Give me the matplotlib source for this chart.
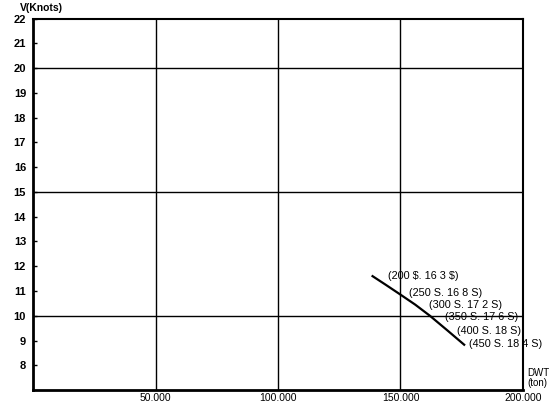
import matplotlib.pyplot as plt

# speed vs deadweight curve
dwt = [138600, 144000, 150200, 156000, 162000, 169000, 176000]
speed = [11.6, 11.25, 10.84, 10.45, 10.0, 9.42, 8.83]

# labels along the curve: (fuel price, freight)
curve_labels = [r"(200 \$. 16 3 \$)", "(250 S. 16 8 S)", "(300 S. 17 2 S)",
                "(350 S. 17 6 S)", "(400 S. 18 S)", "(450 S. 18 4 S)"]
label_x = [144900, 153500, 161600, 168200, 173100, 178000]
label_y = [11.59, 10.93, 10.45, 9.96, 9.39, 8.86]

x_ticks = [50000, 100000, 150000, 200000]
x_ticklabels = ["50.000", "100.000", "150.000", "200.000"]
y_ticks = list(range(8, 23))

plt.rcParams['font.family'] = ['Liberation Sans', 'DejaVu Sans']

fig = plt.figure(figsize=(5.53, 4.08), dpi=100)
ax = fig.add_axes([0.0597, 0.0441, 0.886, 0.91])

ax.set_xlim(0, 200000)
ax.set_ylim(7, 22)

# grid lines only at round values
for v in [50000, 100000, 150000]:
    ax.axvline(v, color='black', lw=1.0)
for v in [10, 15, 20]:
    ax.axhline(v, color='black', lw=1.0)

ax.plot(dwt, speed, color='black', lw=1.6)

for txt, x, y in zip(curve_labels, label_x, label_y):
    ax.text(x, y, txt, fontsize=7.8, va='center', ha='left')

ax.set_xticks(x_ticks)
ax.set_xticklabels(x_ticklabels, fontsize=7.5)
ax.set_yticks(y_ticks)
ax.set_yticklabels([str(t) for t in y_ticks], fontsize=8, fontweight='bold')
ax.tick_params(axis='y', direction='in', length=3, width=1, pad=5)
ax.tick_params(axis='x', length=0, pad=2)

for side in ['left', 'bottom']:
    ax.spines[side].set_linewidth(2.0)
for side in ['top', 'right']:
    ax.spines[side].set_linewidth(1.5)

fig.text(20 / 553, 1 - 8 / 408, "V(Knots)", fontsize=7.5, fontweight='bold', va='center', ha='left')
fig.text(527 / 553, 1 - 378 / 408, "DWT\n(ton)", fontsize=7, va='center', ha='left', linespacing=0.95)

fig.savefig("out.png", dpi=100)
